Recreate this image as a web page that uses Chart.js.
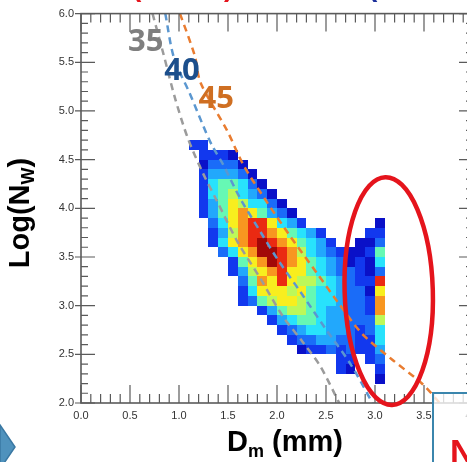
<!DOCTYPE html>
<html lang="en">
<head>
<meta charset="UTF-8">
<title>Dm vs Log(Nw)</title>
<script src="https://cdn.jsdelivr.net/npm/chart.js"></script>
<style>
    html, body { margin: 0; padding: 0; background: #fff; overflow: hidden; }
    #wrap { width: 490px; height: 462px; }
</style>
</head>
<body>
<div id="wrap"><canvas id="chart" width="490" height="462"></canvas></div>
<script>
// histogram bins (lower edges), 0.1 wide
const dmBins = [1.1, 1.2, 1.3, 1.4, 1.5, 1.6, 1.7, 1.8, 1.9, 2.0, 2.1, 2.2, 2.3, 2.4, 2.5, 2.6, 2.7, 2.8, 2.9, 3.0];
const nwBins = [4.6, 4.5, 4.4, 4.3, 4.2, 4.1, 4.0, 3.9, 3.8, 3.7, 3.6, 3.5, 3.4, 3.3, 3.2, 3.1, 3.0, 2.9, 2.8, 2.7, 2.6, 2.5, 2.4, 2.3, 2.2];
const binSize = 0.1;

// occurrence level per bin (0 = empty, 11 = most frequent), one row per nwBins entry
const counts = [
    [2, 2, 0, 0, 0, 0, 0, 0, 0, 0, 0, 0, 0, 0, 0, 0, 0, 0, 0, 0],
    [0, 2, 2, 2, 1, 0, 0, 0, 0, 0, 0, 0, 0, 0, 0, 0, 0, 0, 0, 0],
    [0, 1, 3, 3, 3, 1, 0, 0, 0, 0, 0, 0, 0, 0, 0, 0, 0, 0, 0, 0],
    [0, 2, 4, 4, 4, 3, 1, 0, 0, 0, 0, 0, 0, 0, 0, 0, 0, 0, 0, 0],
    [0, 2, 5, 6, 6, 5, 3, 1, 0, 0, 0, 0, 0, 0, 0, 0, 0, 0, 0, 0],
    [0, 2, 5, 6, 7, 5, 4, 3, 1, 0, 0, 0, 0, 0, 0, 0, 0, 0, 0, 0],
    [0, 2, 4, 6, 8, 7, 5, 5, 3, 1, 0, 0, 0, 0, 0, 0, 0, 0, 0, 0],
    [0, 2, 4, 6, 8, 9, 8, 6, 4, 3, 1, 0, 0, 0, 0, 0, 0, 0, 0, 0],
    [0, 0, 3, 5, 8, 9, 10, 10, 8, 5, 4, 2, 0, 0, 0, 0, 0, 0, 0, 1],
    [0, 0, 2, 4, 7, 9, 10, 10, 9, 8, 6, 5, 4, 2, 0, 0, 0, 0, 2, 2],
    [0, 0, 2, 5, 8, 9, 10, 11, 10, 9, 8, 6, 5, 4, 2, 0, 0, 1, 1, 3],
    [0, 0, 0, 3, 5, 8, 9, 11, 11, 10, 9, 7, 5, 4, 3, 2, 1, 1, 2, 6],
    [0, 0, 0, 0, 2, 6, 8, 9, 11, 10, 9, 8, 6, 5, 4, 3, 1, 2, 1, 5],
    [0, 0, 0, 0, 2, 4, 7, 8, 9, 10, 8, 8, 6, 5, 4, 3, 3, 2, 1, 3],
    [0, 0, 0, 0, 0, 3, 6, 9, 8, 10, 8, 7, 7, 6, 5, 4, 3, 2, 2, 10],
    [0, 0, 0, 0, 0, 2, 5, 8, 8, 8, 7, 8, 6, 5, 5, 4, 3, 3, 1, 8],
    [0, 0, 0, 0, 0, 2, 3, 6, 7, 8, 8, 7, 6, 5, 5, 4, 3, 3, 2, 9],
    [0, 0, 0, 0, 0, 0, 0, 2, 4, 6, 7, 7, 6, 5, 4, 4, 3, 3, 2, 9],
    [0, 0, 0, 0, 0, 0, 0, 0, 2, 4, 5, 6, 6, 5, 4, 4, 3, 3, 3, 7],
    [0, 0, 0, 0, 0, 0, 0, 0, 0, 2, 3, 4, 5, 5, 4, 4, 3, 2, 3, 5],
    [0, 0, 0, 0, 0, 0, 0, 0, 0, 0, 2, 3, 3, 4, 4, 3, 3, 2, 2, 5],
    [0, 0, 0, 0, 0, 0, 0, 0, 0, 0, 0, 1, 2, 2, 3, 2, 3, 2, 2, 4],
    [0, 0, 0, 0, 0, 0, 0, 0, 0, 0, 0, 0, 0, 0, 0, 2, 2, 0, 2, 3],
    [0, 0, 0, 0, 0, 0, 0, 0, 0, 0, 0, 0, 0, 0, 0, 2, 1, 0, 0, 2],
    [0, 0, 0, 0, 0, 0, 0, 0, 0, 0, 0, 0, 0, 0, 0, 0, 0, 0, 0, 1]
];

// constant reflectivity lines
const z35Dm = [0.73, 0.84, 0.96, 1.09, 1.24, 1.39, 1.60, 1.83, 2.06, 2.26, 2.44, 2.64];
const z35Nw = [6.00, 5.59, 5.13, 4.72, 4.37, 4.07, 3.65, 3.28, 2.89, 2.63, 2.38, 1.99];
const z40Dm = [0.86, 0.95, 1.11, 1.25, 1.34, 1.45, 1.62, 1.83, 2.01, 2.24, 2.49, 2.75, 2.98];
const z40Nw = [6.00, 5.54, 5.18, 4.84, 4.64, 4.45, 4.11, 3.76, 3.47, 3.14, 2.77, 2.40, 1.99];
const z45Dm = [1.01, 1.16, 1.22, 1.49, 1.66, 1.88, 2.13, 2.41, 2.64, 2.87, 3.17, 3.49, 3.66];
const z45Nw = [6.00, 5.57, 5.29, 4.80, 4.44, 4.09, 3.72, 3.33, 3.01, 2.71, 2.45, 2.19, 2.00];

const zNames = ['35', '40', '45'];
const zLabelDm = [0.66, 1.03, 1.38];
const zLabelNw = [5.71, 5.41, 5.12];

// circled cluster: centre and half-axes in data units
const circleCenter = [3.14, 3.15];
const circleRadius = [0.45, 1.17];

const levelColors = ['', '#0a10c8', '#1238ee', '#1a6cf8', '#22a8fc', '#28e2fc', '#66f8b4', '#bcf85a', '#f8ee1e', '#f89620', '#ea2a12', '#a20808'];
const lineColors = ['#9b9b9b', '#5b97d0', '#e97c30'];
const textColors = ['#7f7f7f', '#1c4f8c', '#cf6f22'];
const font = '"Liberation Sans", Arial, sans-serif';

function toPoints(xs, ys) {
    return xs.map((v, i) => ({ x: v, y: ys[i] }));
}

const heatmap = {
    id: 'heatmap',
    beforeDatasetsDraw(chart) {
        const { ctx, scales: { x, y } } = chart;
        ctx.save();
        counts.forEach((row, r) => {
            row.forEach((lvl, c) => {
                if (!lvl) return;
                const x0 = Math.round(x.getPixelForValue(dmBins[c]));
                const x1 = Math.round(x.getPixelForValue(dmBins[c] + binSize));
                const y0 = Math.round(y.getPixelForValue(nwBins[r] + binSize));
                const y1 = Math.round(y.getPixelForValue(nwBins[r]));
                ctx.fillStyle = levelColors[lvl];
                ctx.fillRect(x0, y0, x1 - x0, y1 - y0);
            });
        });
        ctx.restore();
    }
};

const frame = {
    id: 'frame',
    afterDatasetsDraw(chart) {
        const { ctx, chartArea: a, scales: { x, y } } = chart;
        ctx.save();
        ctx.strokeStyle = '#5a5a5a';
        ctx.lineWidth = 1.2;
        ctx.beginPath();
        for (let i = 0; i <= 40; i++) {
            const px = x.getPixelForValue(x.min + i / 10);
            const len = i % 5 === 0 ? 18 : 9;
            ctx.moveTo(px, a.bottom); ctx.lineTo(px, a.bottom - len);
            ctx.moveTo(px, a.top); ctx.lineTo(px, a.top + len);
        }
        for (let i = 0; i <= 40; i++) {
            const py = y.getPixelForValue(y.min + i / 10);
            const major = i % 5 === 0;
            const len = major ? 14 : 7;
            ctx.moveTo(a.left - (major ? 6 : 0), py); ctx.lineTo(a.left + len, py);
            ctx.moveTo(a.right, py); ctx.lineTo(a.right - len, py);
        }
        ctx.stroke();
        ctx.lineWidth = 1.6;
        ctx.strokeRect(a.left, a.top, a.right - a.left, a.bottom - a.top);

        // red ellipse round the large-drop cluster
        const cx = x.getPixelForValue(circleCenter[0]);
        const cy = y.getPixelForValue(circleCenter[1]);
        const rx = x.getPixelForValue(circleCenter[0] + circleRadius[0]) - cx;
        const ry = y.getPixelForValue(circleCenter[1] - circleRadius[1]) - cy;
        ctx.strokeStyle = '#e5141c';
        ctx.lineWidth = 4.5;
        ctx.beginPath();
        ctx.ellipse(cx, cy, rx, ry, -0.03, 0, Math.PI * 2);
        ctx.stroke();

        // dBZ labels
        ctx.font = 'bold 31px "Open Sans", sans-serif';
        ctx.textAlign = 'center';
        ctx.textBaseline = 'middle';
        zNames.forEach((t, i) => {
            ctx.fillStyle = textColors[i];
            ctx.fillText(t, x.getPixelForValue(zLabelDm[i]), y.getPixelForValue(zLabelNw[i]));
        });
        ctx.restore();
    },
    afterDraw(chart) {
        const { ctx } = chart;
        const big = 'bold 29px ' + font;
        const small = 'bold 18px ' + font;
        ctx.save();
        ctx.fillStyle = '#000';
        ctx.textBaseline = 'alphabetic';
        ctx.textAlign = 'left';

        // x title: D_m (mm)
        ctx.font = big; const wD = ctx.measureText('D').width; const wR = ctx.measureText(' (mm)').width;
        ctx.font = small; const wm = ctx.measureText('m').width;
        let sx = 285 - (wD + wm + wR) / 2;
        ctx.font = big; ctx.fillText('D', sx, 451); sx += wD;
        ctx.font = small; ctx.fillText('m', sx, 457); sx += wm;
        ctx.font = big; ctx.fillText(' (mm)', sx, 451);

        // y title: Log(N_W)
        ctx.save();
        ctx.translate(29, 213);
        ctx.rotate(-Math.PI / 2);
        ctx.font = big; const wL = ctx.measureText('Log(N').width; const wP = ctx.measureText(')').width;
        ctx.font = small; const wW = ctx.measureText('W').width;
        let sy = -(wL + wW + wP) / 2;
        ctx.font = big; ctx.fillText('Log(N', sy, 0); sy += wL;
        ctx.font = small; ctx.fillText('W', sy, 5); sy += wW;
        ctx.font = big; ctx.fillText(')', sy, 0);
        ctx.restore();

        // cropped bits of the surrounding slide
        ctx.font = 'bold 28px ' + font;
        ctx.fillStyle = '#e5141c';
        ctx.fillText('(', 132, -4);
        ctx.fillText(')', 224, -4);
        ctx.fillStyle = '#1b2f9a';
        ctx.fillText('(', 368, -4);

        ctx.fillStyle = 'rgba(255,255,255,0.78)';
        ctx.fillRect(433, 393, 60, 80);
        ctx.strokeStyle = '#3b86ad';
        ctx.lineWidth = 2;
        ctx.strokeRect(433, 393, 60, 80);
        ctx.fillStyle = '#e5141c';
        ctx.font = 'bold 34px ' + font;
        ctx.fillText('N', 450, 463);

        ctx.fillStyle = '#4f92bd';
        ctx.strokeStyle = '#3a78a3';
        ctx.lineWidth = 1.5;
        ctx.beginPath();
        ctx.moveTo(0, 425); ctx.lineTo(15, 447); ctx.lineTo(0, 469); ctx.closePath();
        ctx.fill(); ctx.stroke();
        ctx.restore();
    }
};

const tickFont = { family: font, size: 11 };

new Chart(document.getElementById('chart'), {
    type: 'scatter',
    data: {
        datasets: [
            { data: toPoints(z35Dm, z35Nw), borderColor: lineColors[0] },
            { data: toPoints(z40Dm, z40Nw), borderColor: lineColors[1] },
            { data: toPoints(z45Dm, z45Nw), borderColor: lineColors[2] }
        ].map(ds => Object.assign(ds, {
            showLine: true, pointRadius: 0, borderWidth: 2.5, borderDash: [7, 5], tension: 0.3, fill: false
        }))
    },
    options: {
        responsive: false,
        animation: false,
        layout: { padding: { top: 10, right: 17, left: 0, bottom: 0 } },
        plugins: { legend: { display: false }, tooltip: { enabled: false } },
        scales: {
            x: {
                type: 'linear', min: 0, max: 4,
                afterFit: s => { s.height = 59; },
                grid: { display: false, drawTicks: false },
                border: { display: false },
                ticks: { stepSize: 0.5, padding: 6, color: '#333', font: tickFont, maxRotation: 0, autoSkip: false,
                         callback: v => v.toFixed(1) }
            },
            y: {
                type: 'linear', min: 2, max: 6,
                afterFit: s => { s.width = 81; },
                grid: { display: false, drawTicks: false },
                border: { display: false },
                ticks: { stepSize: 0.5, padding: 7, color: '#333', font: tickFont, autoSkip: false,
                         callback: v => v.toFixed(1) }
            }
        }
    },
    plugins: [heatmap, frame]
});
</script>
</body>
</html>
